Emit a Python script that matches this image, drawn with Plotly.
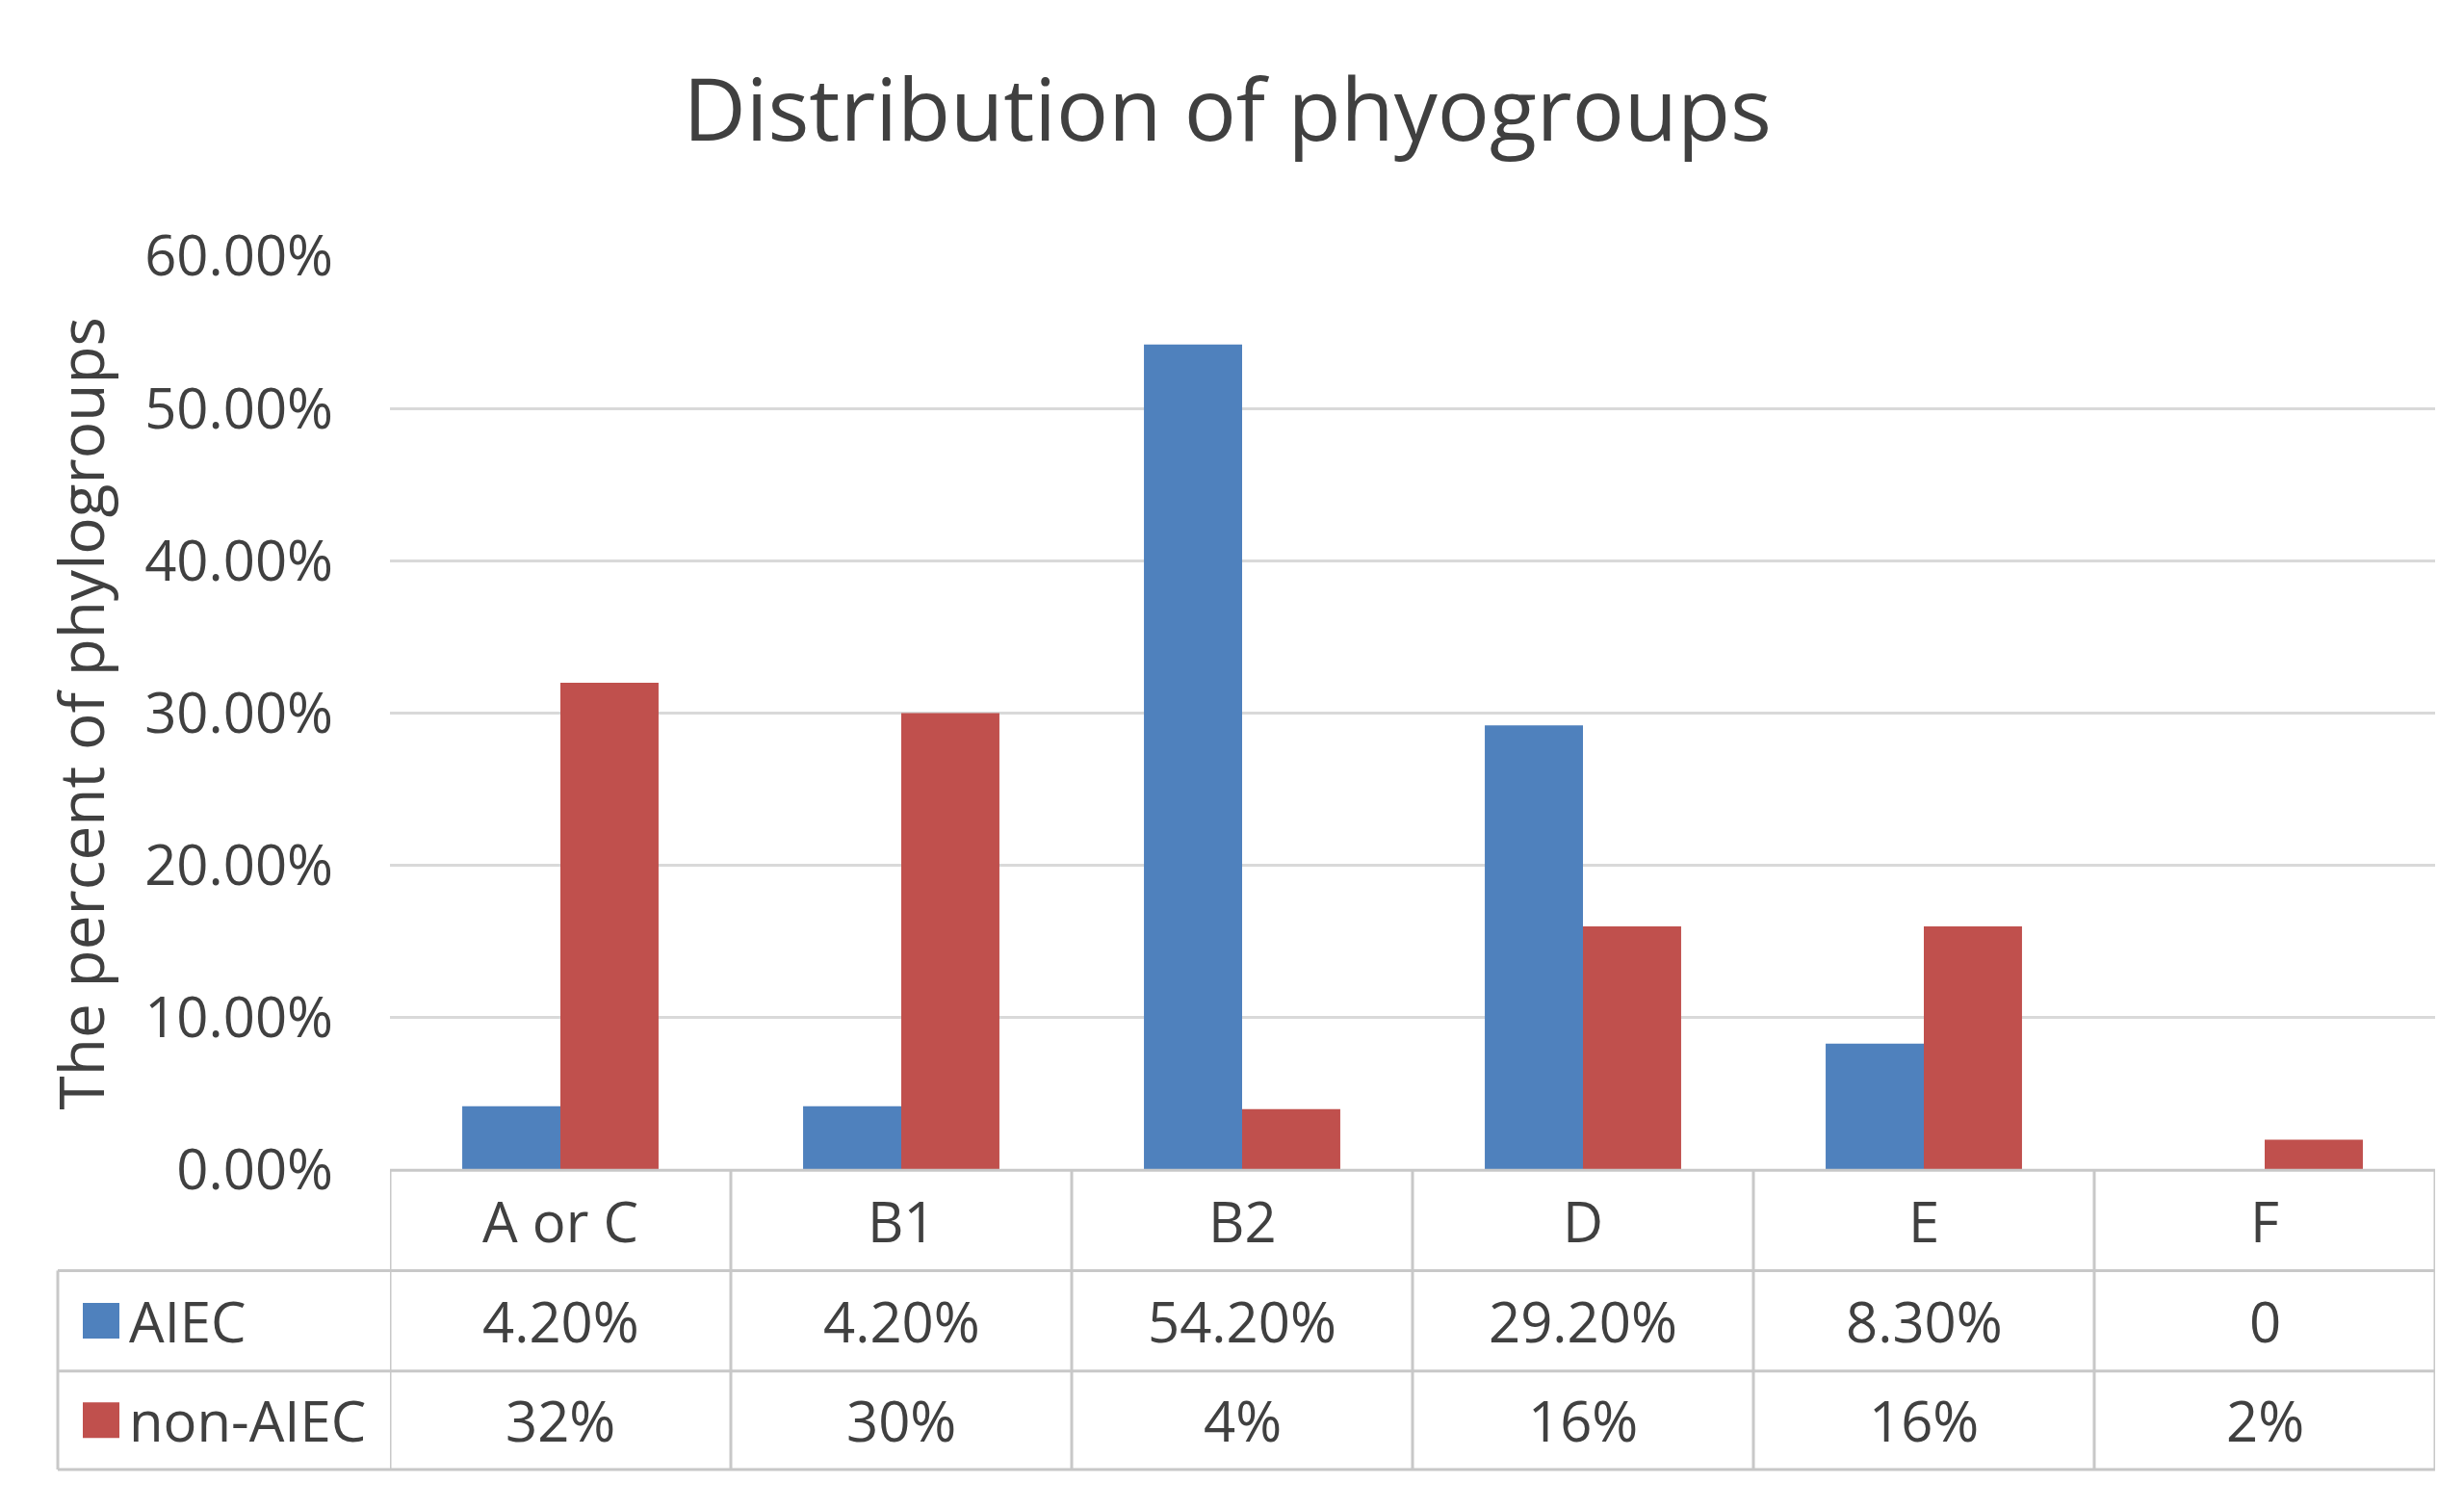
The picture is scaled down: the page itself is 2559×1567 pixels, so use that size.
import plotly.graph_objects as go

# data
categories = ["A or C", "B1", "B2", "D", "E", "F"]
aiec = [0.042, 0.042, 0.542, 0.292, 0.083, 0.0]
non_aiec = [0.32, 0.30, 0.04, 0.16, 0.16, 0.02]
aiec_labels = ["4.20%", "4.20%", "54.20%", "29.20%", "8.30%", "0"]
non_aiec_labels = ["32%", "30%", "4%", "16%", "16%", "2%"]
series_names = ["AIEC", "non-AIEC"]

BLUE = "#4F81BD"
RED = "#C0504D"
TEXT = "#404040"
GRID = "#D9D9D9"
BORDER = "#C8C8C8"
FONT = "Open Sans"

W, H = 2559, 1567
L, R, T, B = 397, 38, 258, 16
plot_h = H - T - B
plot_w = W - L - R


def py(px_y):
    # page pixel row -> paper y
    return (H - B - px_y) / plot_h


def px(px_x):
    # page pixel column -> paper x
    return (px_x - L) / plot_w


zero_px = 1232
row_edges = [py(zero_px), py(1339), py(1446), 0.0]
row_mid = [(row_edges[i] + row_edges[i + 1]) / 2 for i in range(3)]
legend_left = px(52)


def cell_text(x, y, text, xref="x", xanchor="center"):
    fig.add_annotation(x=x, xref=xref, y=y, yref="paper", text=text,
                       xanchor=xanchor, yanchor="middle", showarrow=False,
                       font=dict(size=58, color=TEXT))


fig = go.Figure()
fig.add_trace(go.Bar(x=categories, y=aiec, name=series_names[0],
                     marker=dict(color=BLUE, line=dict(width=0))))
fig.add_trace(go.Bar(x=categories, y=non_aiec, name=series_names[1],
                     marker=dict(color=RED, line=dict(width=0))))

# table text
for i, c in enumerate(categories):
    cell_text(c, row_mid[0], c)
    cell_text(c, row_mid[1], aiec_labels[i])
    cell_text(c, row_mid[2], non_aiec_labels[i])

# legend keys in the left column
for name, col, r in [(series_names[0], BLUE, 1), (series_names[1], RED, 2)]:
    fig.add_shape(type="rect", xref="paper", yref="paper",
                  x0=px(78), x1=px(116), y0=row_mid[r] - 19 / plot_h, y1=row_mid[r] + 19 / plot_h,
                  fillcolor=col, line=dict(width=0))
    cell_text(px(124), row_mid[r], name, xref="paper", xanchor="left")

# table borders
line = dict(color=BORDER, width=3)
fig.add_shape(type="line", xref="x", yref="paper", x0=-0.5, x1=5.5,
              y0=row_edges[0], y1=row_edges[0], line=line)
for y in row_edges[1:]:
    fig.add_shape(type="line", xref="paper", yref="paper", x0=legend_left, x1=1,
                  y0=y, y1=y, line=line)
for k in range(len(categories) + 1):
    fig.add_shape(type="line", xref="x", yref="paper", x0=k - 0.5, x1=k - 0.5,
                  y0=0, y1=row_edges[0], line=line)
fig.add_shape(type="line", xref="paper", yref="paper", x0=legend_left, x1=legend_left,
              y0=0, y1=row_edges[1], line=line)

# y axis title
fig.add_annotation(x=px(76), xref="paper", y=(1 + row_edges[0]) / 2, yref="paper",
                   text="The percent of phylogroups", textangle=-90, showarrow=False,
                   xanchor="center", yanchor="middle",
                   font=dict(size=64, color=TEXT))

fig.update_layout(
    width=W, height=H,
    margin=dict(l=L, r=R, t=T, b=B),
    paper_bgcolor="white", plot_bgcolor="white",
    font=dict(family=FONT, color=TEXT),
    showlegend=False,
    barmode="group", bargap=0.424, bargroupgap=0,
    title=dict(text="Distribution of phyogroups", x=0.495, xanchor="center",
               y=1 - 106 / H, yanchor="middle", font=dict(size=90, color=TEXT)),
    xaxis=dict(showticklabels=False, showgrid=False, zeroline=False, showline=False,
               range=[-0.5, 5.5], fixedrange=True),
    yaxis=dict(domain=[row_edges[0], 1], range=[0, 0.6], dtick=0.1, tickformat=".2%",
               showgrid=True, gridcolor=GRID, gridwidth=3, zeroline=False, showline=False,
               ticks="", ticklabelstandoff=58, tickfont=dict(size=58, color=TEXT)),
)

fig.write_html("out.html")
